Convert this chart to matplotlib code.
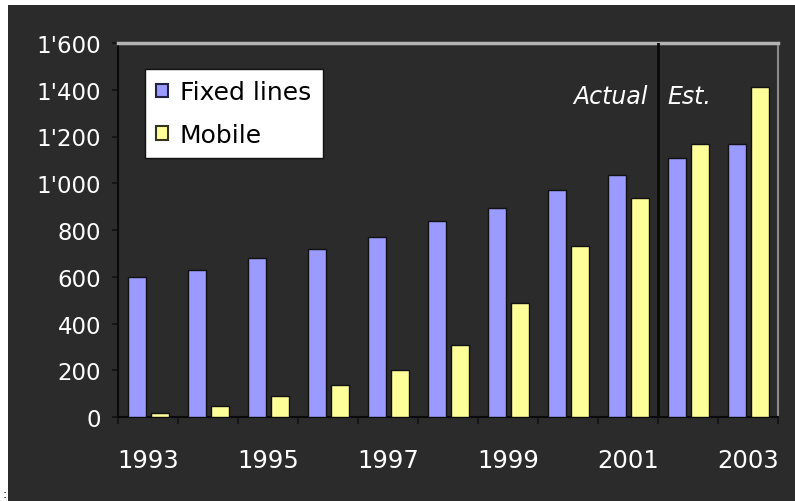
import numpy as np
import matplotlib
matplotlib.use('Agg')
import matplotlib.pyplot as plt
from matplotlib.patches import Patch, Rectangle
from matplotlib.ticker import FuncFormatter

plt.rcParams['font.family'] = ['DejaVu Sans']

years = ['1993', '1994', '1995', '1996', '1997', '1998', '1999', '2000', '2001', '2002', '2003']
fixed_lines = [600, 628, 680, 718, 772, 840, 893, 970, 1037, 1110, 1170]
mobile = [17, 47, 88, 136, 203, 310, 488, 733, 935, 1170, 1412]
yticks = [0, 200, 400, 600, 800, 1000, 1200, 1400, 1600]

bg = '#2b2b2b'
c_fixed = '#9a9aff'
c_mobile = '#ffff99'

fig = plt.figure(figsize=(7.95, 5.02), dpi=100, facecolor='white')
# dark picture area (white strip at left and top)
fig.patches.append(Rectangle((8 / 795, 0), 1, 1 - 6 / 502, transform=fig.transFigure,
                             facecolor=bg, edgecolor='none', zorder=-10))

ax = fig.add_axes([118 / 795, 84 / 502, 660 / 795, 374 / 502])
ax.set_facecolor(bg)

x = np.arange(len(years))
w = 0.3
ax.bar(x - 0.19, fixed_lines, w, color=c_fixed, edgecolor='#111111', linewidth=1, zorder=3)
ax.bar(x + 0.2, mobile, w, color=c_mobile, edgecolor='#111111', linewidth=1, zorder=3)

ax.set_xlim(-0.5, len(years) - 0.5)
ax.set_ylim(0, 1600)

# separator between actual and estimate
ax.axvline(8.5, color='#0a0a0a', linewidth=2, zorder=4)
ax.text(8.33, 1373, 'Actual', color='white', fontsize=17, style='italic',
        ha='right', va='center')
ax.text(8.66, 1373, 'Est.', color='white', fontsize=17, style='italic',
        ha='left', va='center')

ax.set_yticks(yticks)
ax.yaxis.set_major_formatter(FuncFormatter(lambda v, p: f"{int(v):,}".replace(',', "'")))
ax.set_xticks(x[::2])
ax.set_xticklabels(years[::2])
ax.set_xticks(np.arange(-0.5, len(years)), minor=True)

ax.tick_params(axis='y', colors='#111111', labelcolor='white', labelsize=16.5,
               length=4, width=1.2, pad=8)
ax.tick_params(axis='x', which='major', length=0, labelcolor='white', labelsize=17.5, pad=22)
ax.tick_params(axis='x', which='minor', length=5, width=1.2, color='#111111')

for s in ['left', 'bottom']:
    ax.spines[s].set_color('#0a0a0a')
    ax.spines[s].set_linewidth(1.5)
ax.spines['top'].set_color('#b4b4b4')
ax.spines['top'].set_linewidth(2.5)
ax.spines['right'].set_color('#8a8a8a')
ax.spines['right'].set_linewidth(1.5)

handles = [Patch(facecolor=c_fixed, edgecolor='#222244', linewidth=1.5, label='Fixed lines'),
           Patch(facecolor=c_mobile, edgecolor='#333322', linewidth=1.5, label='Mobile')]
leg = ax.legend(handles=handles, loc='upper left', bbox_to_anchor=(27 / 660, 1 - 26 / 374),
                frameon=True, fancybox=False, framealpha=1, facecolor='white',
                edgecolor='#111111', fontsize=18, handlelength=0.45, handleheight=0.45,
                handletextpad=0.5, labelspacing=0.75, borderpad=0.45, borderaxespad=0)
for t in leg.get_texts():
    t.set_color('black')

fig.text(2 / 795, 4 / 502, ':', color='black', fontsize=9)

plt.savefig('out.png', dpi=100, facecolor=fig.get_facecolor())
